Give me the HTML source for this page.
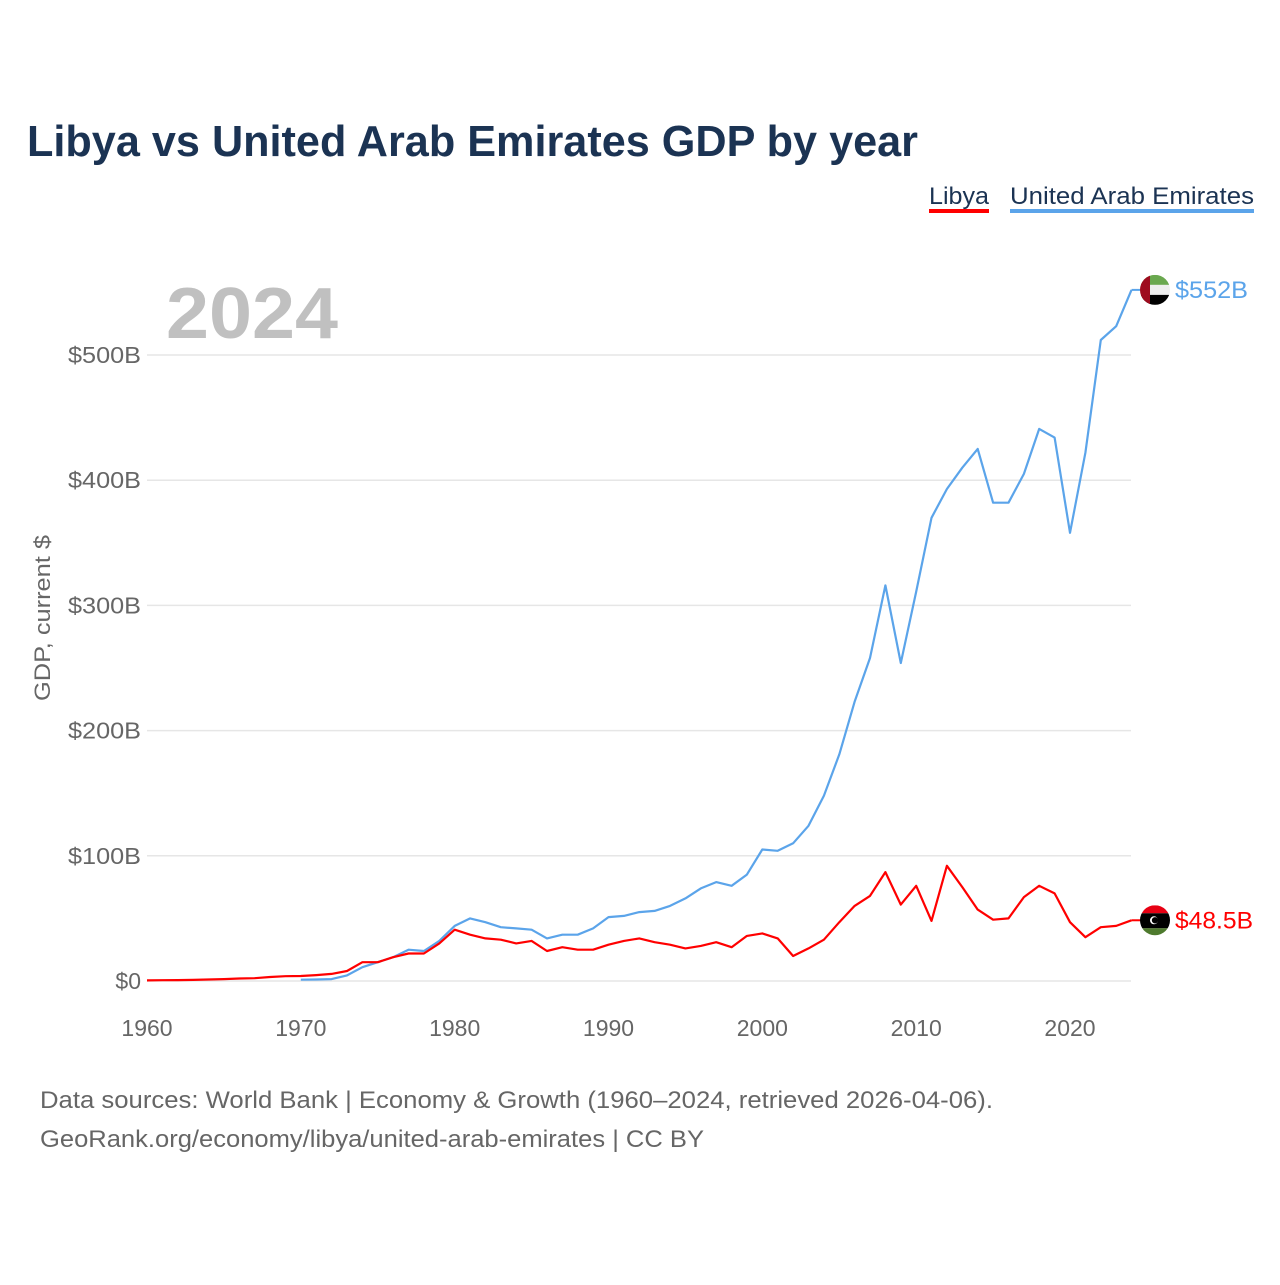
<!DOCTYPE html>
<html><head><meta charset="utf-8"><style>
body{margin:0;background:#fff;font-family:"Liberation Sans",sans-serif;}
</style></head><body>
<svg width="1280" height="1280" viewBox="0 0 1280 1280" xmlns="http://www.w3.org/2000/svg">
<text x="27" y="156" font-size="44" font-weight="bold" fill="#1b3353" textLength="891" lengthAdjust="spacingAndGlyphs">Libya vs United Arab Emirates GDP by year</text>
<g>
<text x="929" y="204" font-size="24" fill="#1b3353" textLength="60" lengthAdjust="spacingAndGlyphs">Libya</text>
<rect x="929" y="209" width="60" height="4" fill="#ff0000"/>
<text x="1010" y="204" font-size="24" fill="#1b3353" textLength="244" lengthAdjust="spacingAndGlyphs">United Arab Emirates</text>
<rect x="1010" y="209" width="244" height="4" fill="#5ba4ea"/>
</g>
<text x="166" y="338" font-size="72" font-weight="bold" fill="#c0c0c0" textLength="172" lengthAdjust="spacingAndGlyphs">2024</text>
<text transform="translate(50,618) rotate(-90)" text-anchor="middle" font-size="22" fill="#666" textLength="166" lengthAdjust="spacingAndGlyphs">GDP, current $</text>
<g id="grid"></g><g id="series"></g>
<text x="40" y="1108" font-size="24" fill="#666" textLength="953" lengthAdjust="spacingAndGlyphs">Data sources: World Bank | Economy &amp; Growth (1960–2024, retrieved 2026-04-06).</text>
<text x="40" y="1147" font-size="24" fill="#666" textLength="664" lengthAdjust="spacingAndGlyphs">GeoRank.org/economy/libya/united-arab-emirates | CC BY</text>
</svg>
<script>
const yTicks=[0,100,200,300,400,500];
const yTickLabels=["$0","$100B","$200B","$300B","$400B","$500B"];
const xTicks=[1960,1970,1980,1990,2000,2010,2020];
const libyaStart=1960;
const libya=[0.5,0.6,0.7,0.9,1.2,1.5,2,2.2,3.2,3.8,4,4.7,5.7,8,15,15,19,22,22,30,41,37,34,33,30,32,24,27,25,25,29,32,34,31,29,26,28,31,27,36,38,34,20,26,33,47,60,68,87,61,76,48,92,75,57,49,50,67,76,70,47,35,43,44,48.5];
const uaeStart=1970;
const uae=[1.0,1.2,1.5,4.5,11,15,19,25,24,32,44,50,47,43,42,41,34,37,37,42,51,52,55,56,60,66,74,79,76,85,105,104,110,124,148,181,223,258,316,254,311,370,393,410,425,382,382,405,441,434,358,422,512,523,552];
const NS="http://www.w3.org/2000/svg";
const X=y=>147+(y-1960)*(923/60);
const Y=v=>981-v*1.252;
const grid=document.getElementById('grid'),ser=document.getElementById('series');
function mk(t,a,p){const e=document.createElementNS(NS,t);for(const k in a)e.setAttribute(k,a[k]);p.appendChild(e);return e;}
yTicks.forEach((v,i)=>{
 const l=mk('line',{x1:147,x2:1131,y1:Y(v),y2:Y(v),stroke:'#e6e6e6','stroke-width':1.5},grid);
 
 
 const lab=yTickLabels[i];
 const a={x:141,y:Y(v)+8,'text-anchor':'end','font-size':23,fill:'#666'};
 if(lab.length>2){a.textLength=lab.length*14.6;a.lengthAdjust='spacingAndGlyphs';}
 const t=mk('text',a,grid);
 t.textContent=lab;
 
 
});
xTicks.forEach(y=>{
 const t=mk('text',{x:X(y),y:1036,'text-anchor':'middle','font-size':23,fill:'#666'},grid);
 t.textContent=y;
 
 
});
function line(data,start,color,name){
 const pts=data.map((v,i)=>X(start+i).toFixed(1)+','+Y(v).toFixed(1)).join(' ');
 const p=mk('polyline',{points:pts,fill:'none',stroke:color,'stroke-width':2.2,'stroke-linejoin':'round'},ser);
 
 
}
line(uae,uaeStart,'#5ba4ea','uae-line');
line(libya,libyaStart,'#ff0000','libya-line');
function endLabel(v,color,label,name,flag,w){
 const y=Y(v),x0=X(2024);
 mk('line',{x1:x0,x2:x0+10,y1:y,y2:y,stroke:color,'stroke-width':2},ser);
 const g=mk('g',{},ser);
 
 
 const cx=1155,r=15;
 const cp=mk('clipPath',{id:name+'c'},g);mk('circle',{cx:cx,cy:y,r:r},cp);
 const h=mk('g',{'clip-path':'url(#'+name+'c)'},g);
 if(flag==='uae'){
  mk('rect',{x:cx-r,y:y-r,width:2*r,height:10,fill:'#6aa84f'},h);
  mk('rect',{x:cx-r,y:y-5,width:2*r,height:10,fill:'#eee'},h);
  mk('rect',{x:cx-r,y:y+5,width:2*r,height:10,fill:'#000'},h);
  mk('rect',{x:cx-r,y:y-r,width:10,height:2*r,fill:'#9e0b1e'},h);
 }else{
  mk('rect',{x:cx-r,y:y-r,width:2*r,height:8,fill:'#e70013'},h);
  mk('rect',{x:cx-r,y:y-7,width:2*r,height:15,fill:'#000'},h);
  mk('rect',{x:cx-r,y:y+8,width:2*r,height:8,fill:'#4e7a2e'},h);
  mk('circle',{cx:cx-1,cy:y,r:4,fill:'#fff'},h);
  mk('circle',{cx:cx,cy:y,r:3.2,fill:'#000'},h);
 }
 const t=mk('text',{x:1175,y:y+8,'font-size':24,fill:color,textLength:w,lengthAdjust:'spacingAndGlyphs'},ser);
 t.textContent=label;
 
 
}
endLabel(uae[uae.length-1],'#5ba4ea','$552B','uae','uae',73);
endLabel(libya[libya.length-1],'#ff0000','$48.5B','libya','libya',78);
</script>
</body></html>
